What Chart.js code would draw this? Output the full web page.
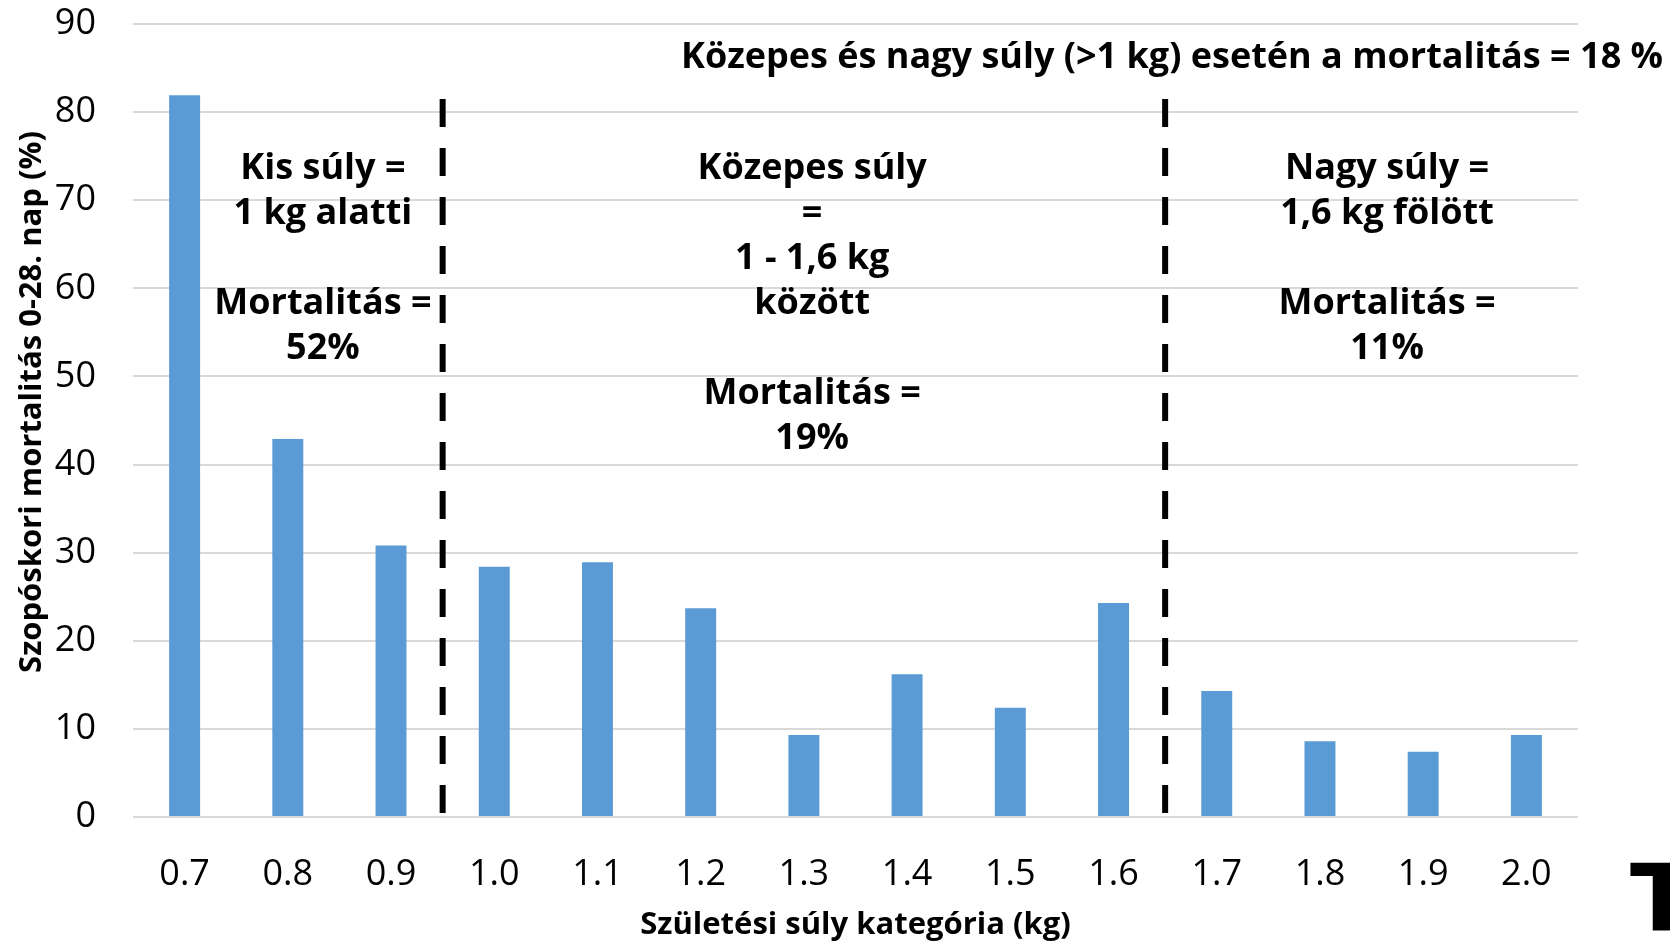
<!DOCTYPE html>
<html lang="hu">
<head>
    <meta charset="UTF-8">
    <title>Szopóskori mortalitás</title>
    <script src="https://cdn.jsdelivr.net/npm/chart.js"></script>
    <style>
        body {
            margin: 0;
            background: #ffffff;
        }

        .chart-box {
            width: 1670px;
            height: 944px;
        }
    </style>
</head>
<body>
    <div class="chart-box">
        <canvas id="mortChart" width="1670" height="944"></canvas>
    </div>

    <script>
        // data
        const weightClasses = ['0.7', '0.8', '0.9', '1.0', '1.1', '1.2', '1.3', '1.4', '1.5', '1.6', '1.7', '1.8', '1.9', '2.0'];
        const mortality = [81.9, 42.9, 30.8, 28.4, 28.9, 23.7, 9.3, 16.2, 12.4, 24.3, 14.3, 8.6, 7.4, 9.3];
        const yTicks = [0, 10, 20, 30, 40, 50, 60, 70, 80, 90];

        // group borders sit between these category indexes
        const dividerAfter = [2, 9];

        const groupNotes = [
            { at: 1.34, lines: ['Kis súly =', '1 kg alatti', '', 'Mortalitás =', '52%'] },
            { at: 6.08, lines: ['Közepes súly', '=', '1 - 1,6 kg', 'között', '', 'Mortalitás =', '19%'] },
            { at: 11.65, lines: ['Nagy súly =', '1,6 kg fölött', '', 'Mortalitás =', '11%'] }
        ];
        const topNote = 'Közepes és nagy súly (>1 kg) esetén a mortalitás = 18 %';
        const yTitle = 'Szopóskori mortalitás 0-28. nap (%)';

        Chart.defaults.font.family = "'Open Sans', sans-serif";
        Chart.defaults.color = '#000';

        const notesPlugin = {
            id: 'notes',
            afterDatasetsDraw(chart) {
                const { ctx, chartArea, scales: { x, y } } = chart;
                ctx.save();

                // dashed borders
                ctx.strokeStyle = '#000';
                ctx.lineWidth = 6;
                ctx.setLineDash([28, 21]);
                dividerAfter.forEach(i => {
                    const px = (x.getPixelForValue(i) + x.getPixelForValue(i + 1)) / 2;
                    ctx.beginPath();
                    ctx.moveTo(px, y.getPixelForValue(81.5));
                    ctx.lineTo(px, y.getPixelForValue(0));
                    ctx.stroke();
                });
                ctx.setLineDash([]);

                // group texts
                ctx.fillStyle = '#000';
                ctx.font = "bold 36px 'Open Sans', sans-serif";
                ctx.textAlign = 'center';
                ctx.textBaseline = 'middle';
                groupNotes.forEach(g => {
                    const cx = x.getPixelForValue(g.at);
                    g.lines.forEach((t, k) => {
                        if (t) ctx.fillText(t, cx, chartArea.top + 145 + k * 45);
                    });
                });

                ctx.textAlign = 'right';
                ctx.fillText(topNote, 1663, chartArea.top + 34);

                // y axis title, sits a bit above the middle of the axis
                ctx.save();
                ctx.translate(32, 402);
                ctx.rotate(-Math.PI / 2);
                ctx.textAlign = 'center';
                ctx.font = "bold 31px 'Open Sans', sans-serif";
                ctx.fillText(yTitle, 0, 0);
                ctx.restore();

                // cut-off logo letter in the corner
                ctx.font = "900 92px 'DejaVu Sans', sans-serif";
                ctx.textAlign = 'left';
                ctx.textBaseline = 'alphabetic';
                ctx.fillText('T', 1630, 930);
                ctx.restore();
            }
        };

        new Chart(document.getElementById('mortChart'), {
            type: 'bar',
            data: {
                labels: weightClasses,
                datasets: [{
                    data: mortality,
                    backgroundColor: '#5b9bd5',
                    barPercentage: 0.3,
                    categoryPercentage: 1
                }]
            },
            options: {
                responsive: false,
                animation: false,
                layout: { padding: { top: 24, right: 92, left: 0, bottom: 0 } },
                plugins: {
                    legend: { display: false },
                    tooltip: { enabled: false }
                },
                scales: {
                    x: {
                        grid: { display: false },
                        border: { display: false },
                        ticks: { font: { size: 36 }, padding: 28, maxRotation: 0 },
                        title: {
                            display: true,
                            text: 'Születési súly kategória (kg)',
                            font: { size: 31, weight: 'bold' },
                            padding: { top: 0, bottom: 0 }
                        },
                        afterFit(s) { s.height = 127; }
                    },
                    y: {
                        min: 0,
                        max: 90,
                        afterBuildTicks(s) { s.ticks = yTicks.map(v => ({ value: v })); },
                        grid: { color: '#d9d9d9', lineWidth: 2, drawTicks: false },
                        border: { display: false },
                        ticks: { font: { size: 36 }, padding: 37 },
                        afterFit(s) {
                            s.width = 133;
                            s.paddingTop = 0;
                            s.paddingBottom = 0;
                        }
                    }
                }
            },
            plugins: [notesPlugin]
        });
    </script>
</body>
</html>
